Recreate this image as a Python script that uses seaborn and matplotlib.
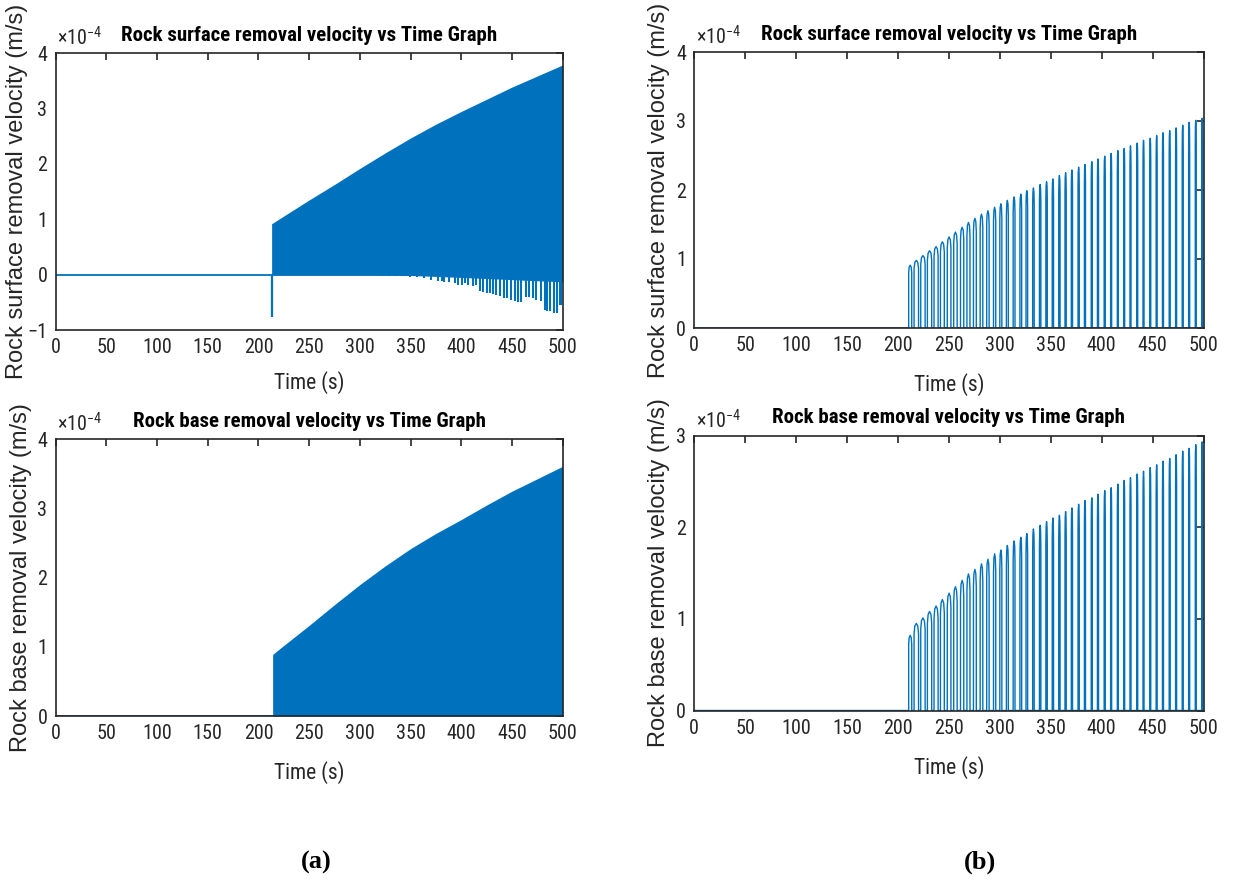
import numpy as np
import pandas as pd
import matplotlib
matplotlib.use("Agg")
import matplotlib.pyplot as plt
from matplotlib import font_manager as fm
import seaborn as sns

# ---------------- data (velocities in units of 1e-4 m/s, time in s) ----------------
time_ticks = [0, 50, 100, 150, 200, 250, 300, 350, 400, 450, 500]

# (a) top: rock surface removal velocity -- dense oscillation envelope
surf_env_t = [213, 225, 250, 275, 300, 325, 350, 375, 400, 425, 450, 475, 500]
surf_env_hi = [0.92, 1.06, 1.35, 1.63, 1.92, 2.20, 2.47, 2.72, 2.95, 3.17, 3.39, 3.59, 3.79]
surf_band_t = [213, 330, 400, 450, 500]
surf_band_lo = [0.0, 0.0, -0.05, -0.09, -0.13]
surf_onset_t = [213.5]
surf_onset_v = [-0.77]
surf_neg_t = [322, 329, 336, 342, 349, 356, 363.5, 370.1, 376.6, 380.6,
              383.2, 387.5, 393.7, 396.3, 400.3, 403.5, 406.8, 411.7, 415.0, 418.9,
              421.6, 425.5, 428.1, 431.4, 434.7, 438.6, 441.9, 445.5, 449.4, 453.0,
              456.0, 459.3, 463.5, 466.8, 470.7, 474.0, 478.3, 482.2, 484.5, 487.1,
              491.0, 494.3, 496.9, 498.5]
surf_neg_v = [-0.02, -0.02, -0.03, -0.03, -0.04, -0.05, -0.06, -0.09, -0.11, -0.12,
              -0.13, -0.13, -0.15, -0.18, -0.18, -0.15, -0.18, -0.20, -0.19, -0.30,
              -0.31, -0.33, -0.33, -0.35, -0.37, -0.39, -0.42, -0.43, -0.45, -0.47,
              -0.49, -0.50, -0.41, -0.41, -0.42, -0.45, -0.47, -0.63, -0.65, -0.66,
              -0.69, -0.69, -0.54, -0.55]

# (a) bottom: rock base removal velocity envelope
base_env_t = [214, 225, 250, 275, 300, 325, 350, 375, 400, 425, 450, 475, 500]
base_env_hi = [0.89, 1.02, 1.31, 1.61, 1.90, 2.17, 2.42, 2.64, 2.84, 3.05, 3.25, 3.43, 3.61]

# (b) pulses
pulse_t = [212.0, 218.0, 224.5, 231.0, 237.4, 243.6, 250.2, 256.4, 263.0, 269.2,
           275.5, 282.0, 288.3, 294.9, 301.0, 307.4, 314.0, 320.6, 326.5, 333.0,
           339.6, 345.9, 352.1, 358.5, 364.6, 370.8, 377.4, 383.6, 390.3, 396.4,
           403.0, 409.3, 415.9, 422.1, 428.3, 434.9, 441.1, 447.7, 454.0, 460.2,
           466.8, 473.1, 479.6, 485.9, 492.4, 498.7]
pulse_w = [3.0, 4.4, 4.3, 4.2, 4.0, 3.8, 3.6, 3.4, 3.2, 3.0,
           2.8, 2.6, 2.4, 2.2, 2.0, 1.9, 1.8, 1.7, 1.6, 1.5,
           1.4, 1.4, 1.3, 1.3, 1.2, 1.2, 1.2, 1.1, 1.1, 1.1,
           1.1, 1.0, 1.0, 1.0, 1.0, 1.0, 1.0, 1.0, 1.0, 1.0,
           1.0, 1.0, 1.0, 1.0, 1.0, 1.0]
surf_pulse_peak = [0.91, 0.98, 1.05, 1.12, 1.18, 1.25, 1.32, 1.39, 1.46, 1.53,
                   1.59, 1.65, 1.70, 1.75, 1.80, 1.85, 1.90, 1.94, 1.99, 2.03,
                   2.08, 2.12, 2.16, 2.21, 2.25, 2.29, 2.33, 2.37, 2.41, 2.45,
                   2.49, 2.53, 2.57, 2.60, 2.64, 2.68, 2.72, 2.75, 2.79, 2.83,
                   2.86, 2.90, 2.94, 2.98, 3.01, 3.04]
base_pulse_peak = [0.82, 0.95, 1.01, 1.08, 1.14, 1.21, 1.28, 1.35, 1.42, 1.49,
                   1.54, 1.60, 1.65, 1.71, 1.75, 1.80, 1.85, 1.89, 1.93, 1.98,
                   2.02, 2.06, 2.10, 2.13, 2.17, 2.21, 2.25, 2.29, 2.32, 2.36,
                   2.40, 2.43, 2.47, 2.51, 2.54, 2.58, 2.61, 2.65, 2.68, 2.72,
                   2.75, 2.79, 2.83, 2.86, 2.90, 2.93]

titles = ["Rock surface removal velocity vs Time Graph",
          "Rock base removal velocity vs Time Graph"]
ylabels = ["Rock surface removal velocity (m/s)",
           "Rock base removal velocity (m/s)"]
xlabel = "Time (s)"
panel_labels = ["(a)", "(b)"]

# ---------------- style ----------------
BLUE = "#0072BD"
TXT = "#262626"
sns.set_style("white")

installed = set(f.name for f in fm.fontManager.ttflist)
COND = next((n for n in ["Roboto Condensed", "Archivo Narrow", "Barlow Semi Condensed",
                         "Asap Condensed", "Liberation Sans"] if n in installed), "DejaVu Sans")
COND_BOLD = next((n for n in ["Roboto Condensed", "Barlow Semi Condensed", "Asap Condensed",
                              "Liberation Sans"] if n in installed), "DejaVu Sans")
plt.rcParams["font.family"] = [COND, "DejaVu Sans"]
plt.rcParams["mathtext.fontset"] = "custom"
plt.rcParams["mathtext.rm"] = COND
plt.rcParams["mathtext.it"] = COND

fig = plt.figure(figsize=(12.34, 8.84), dpi=100)
W, H = 1234.0, 884.0


def add_axes(l, r, t, b):
    return fig.add_axes([l / W, 1 - b / H, (r - l) / W, (b - t) / H])


ax_tl = add_axes(55.6, 562.7, 53.3, 330.0)
ax_tr = add_axes(694.3, 1203.5, 52.0, 328.0)
ax_bl = add_axes(55.6, 562.7, 439.3, 716.0)
ax_br = add_axes(694.3, 1203.5, 435.5, 710.5)

# pulse outline shape (relative to width and peak)
PULSE_DX = [-0.5, -0.5, -0.33, 0.0, 0.33, 0.5, 0.5]
PULSE_FY = [0.0, 0.88, 0.97, 1.0, 0.97, 0.88, 0.0]


def pulse_frame(times, peaks, widths):
    xs, ys = [0.0], [0.0]
    for t, p, w in zip(times, peaks, widths):
        for dx, fy in zip(PULSE_DX, PULSE_FY):
            xs.append(t + dx * w)
            ys.append(p * fy)
    xs.append(500.0)
    ys.append(0.0)
    return pd.DataFrame({"t": xs, "v": ys})


# ---- (a) top
ax = ax_tl
sns.lineplot(data=pd.DataFrame({"t": [0, 500], "v": [0, 0]}), x="t", y="v",
             ax=ax, color=BLUE, lw=1.3, estimator=None, sort=False)
ax.vlines(surf_onset_t, 0, surf_onset_v, color=BLUE, lw=1.6)
lo_interp = np.interp(surf_env_t, surf_band_t, surf_band_lo)
ax.fill_between(surf_env_t, lo_interp, surf_env_hi, color=BLUE, lw=0)
ax.vlines(surf_neg_t, 0, surf_neg_v, color=BLUE, lw=1.5)
ax.set_ylim(-1, 4)
ax.set_yticks([-1, 0, 1, 2, 3, 4])

# ---- (a) bottom
ax = ax_bl
sns.lineplot(data=pd.DataFrame({"t": [0, 500], "v": [0, 0]}), x="t", y="v",
             ax=ax, color=BLUE, lw=1.3, estimator=None, sort=False)
ax.fill_between(base_env_t, 0, base_env_hi, color=BLUE, lw=0)
ax.set_ylim(0, 4)
ax.set_yticks([0, 1, 2, 3, 4])

# ---- (b) top
ax = ax_tr
sns.lineplot(data=pulse_frame(pulse_t, surf_pulse_peak, pulse_w), x="t", y="v",
             ax=ax, color=BLUE, lw=1.0, estimator=None, sort=False)
ax.set_ylim(0, 4)
ax.set_yticks([0, 1, 2, 3, 4])

# ---- (b) bottom
ax = ax_br
sns.lineplot(data=pulse_frame(pulse_t, base_pulse_peak, pulse_w), x="t", y="v",
             ax=ax, color=BLUE, lw=1.0, estimator=None, sort=False)
ax.set_ylim(0, 3)
ax.set_yticks([0, 1, 2, 3])

label_pos = {
    ax_tl: (-0.054, -0.148),
    ax_tr: (-0.048, -0.163),
    ax_bl: (-0.047, -0.163),
    ax_br: (-0.048, -0.165),
}
for i, ax in enumerate([ax_tl, ax_tr, ax_bl, ax_br]):
    row = i // 2
    ax.set_xlim(0, 500)
    ax.set_xticks(time_ticks)
    ax.tick_params(direction="in", length=5, width=1.2, top=True, right=True,
                   colors=TXT, labelsize=14.5, pad=6)
    for lab in ax.get_xticklabels() + ax.get_yticklabels():
        lab.set_family([COND, "DejaVu Sans"])
    for sp in ax.spines.values():
        sp.set_color(TXT)
        sp.set_linewidth(1.2)
        sp.set_visible(True)
    ax.set_title(titles[row], fontsize=15, fontweight="bold", color="black", pad=9,
                 family=[COND_BOLD, "DejaVu Sans"])
    ax.set_xlabel(xlabel, fontsize=15.5, color=TXT)
    ax.set_ylabel(ylabels[row], fontsize=17, color=TXT,
                  family=["Liberation Sans", "DejaVu Sans"])
    lx, ly = label_pos[ax]
    ax.yaxis.set_label_coords(lx, 0.5)
    ax.xaxis.set_label_coords(0.5, ly)
    ax.xaxis.label.set_va("top")
    ax.text(0.003, 1.012, r"$\times10^{-4}$", transform=ax.transAxes,
            ha="left", va="bottom", fontsize=14.5, color=TXT)
    ax.grid(False)

for txt, x in zip(panel_labels, [316, 980]):
    fig.text(x / W, 1 - 862 / H, txt, ha="center", va="center", fontsize=19,
             fontweight="bold", family=["Liberation Serif", "DejaVu Serif"], color="black")

fig.savefig("out.png", dpi=100, facecolor="white")
